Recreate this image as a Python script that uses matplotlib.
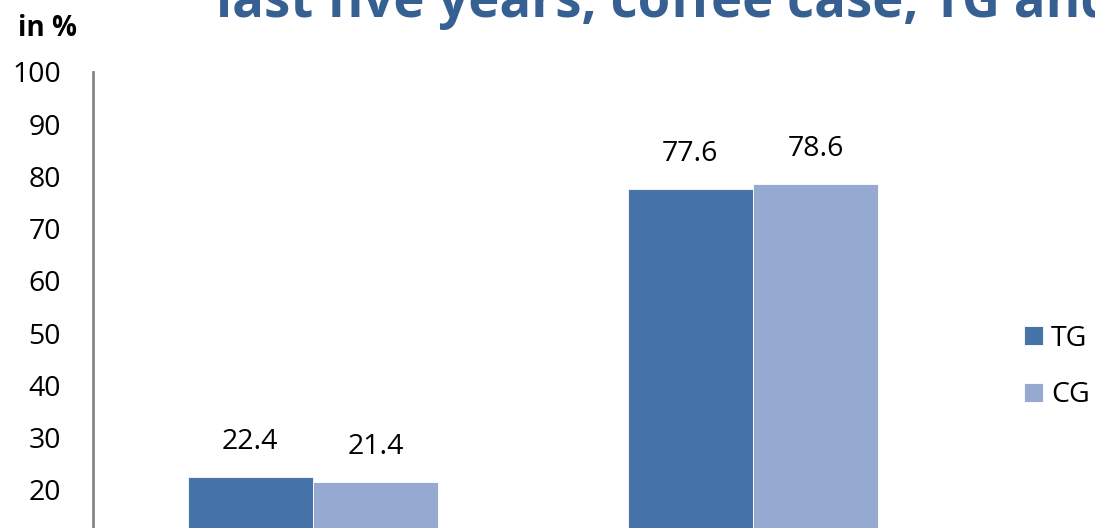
import matplotlib.pyplot as plt
import numpy as np

# Share of respondents (in %), coffee case
categories = ['Yes', 'No']
tg_values = [22.4, 77.6]
cg_values = [21.4, 78.6]
series_labels = ['TG', 'CG']
y_ticks = [20, 30, 40, 50, 60, 70, 80, 90, 100]

TG_COLOR = '#4673a8'
CG_COLOR = '#95a9d1'
TITLE_COLOR = '#376092'

plt.rcParams['font.family'] = ['Open Sans', 'DejaVu Sans']

fig = plt.figure(figsize=(10.95, 5.28), dpi=100)
# the picture is a crop of a bigger slide: axes run below the bottom edge
ax = fig.add_axes([93 / 1095, -66 / 528, 880 / 1095, 522 / 528])

x = np.arange(len(categories))
width = 0.285
bars_tg = ax.bar(x - width / 2, tg_values, width, color=TG_COLOR,
                 edgecolor='white', linewidth=0.6, label=series_labels[0])
bars_cg = ax.bar(x + width / 2, cg_values, width, color=CG_COLOR,
                 edgecolor='white', linewidth=0.6, label=series_labels[1])

for bars in (bars_tg, bars_cg):
    ax.bar_label(bars, labels=[f'{v:.1f}' for v in bars.datavalues],
                 padding=15, fontsize=20.5)

ax.set_xlim(-0.5, 1.5)
ax.set_ylim(0, 100)
ax.set_yticks(y_ticks)
# category labels sit below the cropped edge, so they are not drawn
ax.set_xticks(x)
ax.set_xticklabels([])
ax.tick_params(axis='y', length=0, pad=23, labelsize=20.5)
ax.tick_params(axis='x', length=0)
for side in ('top', 'right', 'bottom'):
    ax.spines[side].set_visible(False)
ax.spines['left'].set_color('#868686')
ax.spines['left'].set_linewidth(2)

fig.text(18 / 1095, 1 - 28 / 528, 'in %', fontsize=20, fontweight='bold',
         ha='left', va='center')
fig.text(216 / 1095, 1 - 17 / 528,
         'last five years, coffee case, TG and CG',
         fontsize=38, fontweight='bold', color=TITLE_COLOR,
         ha='left', va='baseline')

fig.legend(handles=[bars_tg, bars_cg], labels=series_labels,
           loc='center left', bbox_to_anchor=(1024 / 1095, 1 - 367 / 528),
           frameon=False, fontsize=20.5, handlelength=0.65, handleheight=0.65,
           handletextpad=0.3, labelspacing=1.0, borderpad=0, borderaxespad=0)

fig.savefig('out.png', dpi=100)
